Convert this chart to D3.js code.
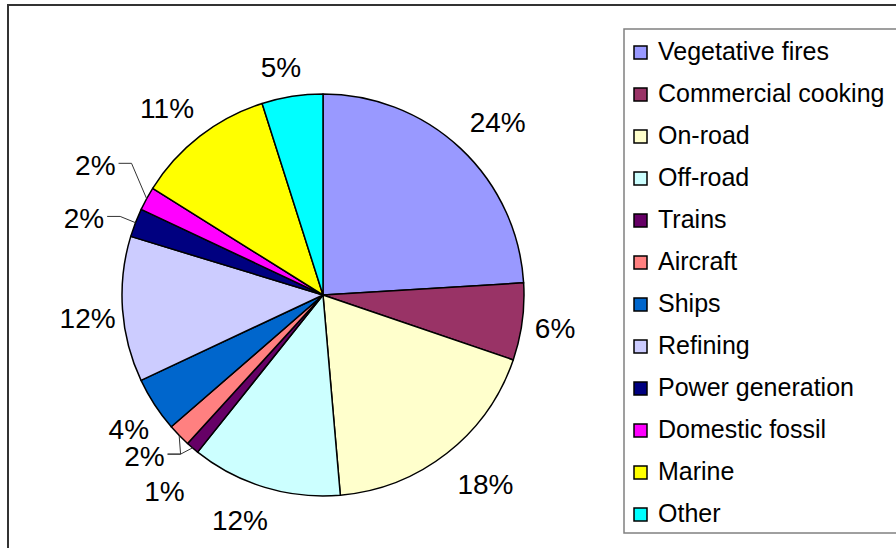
<!DOCTYPE html>
<html>
<head>
<meta charset="utf-8">
<script src="https://cdn.jsdelivr.net/npm/d3@7"></script>
<style>
  body { margin: 0; background: #fff; }
  svg { display: block; font-family: "Liberation Sans", Arial, sans-serif; }
</style>
</head>
<body>
<svg id="chart" width="896" height="548"></svg>
<script>
// Emission source categories, clockwise from 12 o'clock
const categories = ["Vegetative fires", "Commercial cooking", "On-road", "Off-road", "Trains",
  "Aircraft", "Ships", "Refining", "Power generation", "Domestic fossil", "Marine", "Other"];
// Share of total (%)
const shares = [24.05, 6.2, 18.4, 12.1, 1.05, 1.85, 4.4, 11.7, 2.3, 1.9, 11.2, 4.9];
const colors = ["#9999FF", "#993366", "#FFFFCC", "#CCFFFF", "#660066", "#FF8080",
  "#0066CC", "#CCCCFF", "#000080", "#FF00FF", "#FFFF00", "#00FFFF"];

// layout
const cx = 323, cy = 295, radius = 201;
// small nudges so labels sit where the original places them
const labelNudge = [[4, -2], [-7, 2], [9, 4], [-11, 0], [-2, 17], [-6, -3],
  [8, 6], [13, 6], [-14, 8], [-16, -17], [-4, -1], [-5, 4]];
// slices whose label has a leader line: [slice index, label index it starts from]
const leaders = [[5, 5], [4, 5], [8, 8], [9, 9]];

const svg = d3.select('#chart');

// outer frame
svg.append('rect')
  .attr('x', 8).attr('y', 5)
  .attr('width', 920).attr('height', 580)
  .attr('fill', 'none')
  .attr('stroke', '#333')
  .attr('stroke-width', 2);

const total = d3.sum(shares);
const fmt = d3.format('.0%');

const pie = d3.pie().sort(null).value(d => d)(shares);
const arc = d3.arc().innerRadius(0).outerRadius(radius);

const g = svg.append('g').attr('transform', `translate(${cx},${cy})`);

g.selectAll('path.slice')
  .data(pie)
  .enter().append('path')
  .attr('class', 'slice')
  .attr('d', arc)
  .attr('fill', (d, i) => colors[i])
  .attr('stroke', '#000')
  .attr('stroke-width', 1.5)
  .attr('stroke-linejoin', 'round');

// percentage labels, placed just outside the slice's mid angle
const labelBoxes = [];
const labels = g.selectAll('text.pct')
  .data(pie)
  .enter().append('text')
  .attr('class', 'pct')
  .attr('text-anchor', 'middle')
  .style('font-size', '28px')
  .style('fill', '#000')
  .text(d => fmt(d.value / total));

labels.each(function(d, i) {
  const a = (d.startAngle + d.endAngle) / 2;
  const ux = Math.sin(a), uy = -Math.cos(a);
  const w = this.getComputedTextLength();
  const h = 28;
  const x = ux * (radius + 20) + ux * w / 2 + labelNudge[i][0];
  const y = uy * (radius + 20) + uy * h / 2 + labelNudge[i][1];
  labelBoxes[i] = { x, y, w };
  d3.select(this).attr('x', x).attr('y', y + 10);
});

// leader lines for the thin slices on the left
leaders.forEach(([si, li]) => {
  const d = pie[si];
  const a = (d.startAngle + d.endAngle) / 2;
  const b = labelBoxes[li];
  const x0 = b.x + b.w / 2 + 3;
  const y0 = b.y - 2;
  const end = [Math.sin(a) * radius, -Math.cos(a) * radius];
  g.append('path')
    .attr('d', d3.line()([[x0, y0], [x0 + 13, y0], end]))
    .attr('fill', 'none')
    .attr('stroke', '#333')
    .attr('stroke-width', 1);
});

// legend
const legend = svg.append('g');
legend.append('rect')
  .attr('x', 624).attr('y', 29)
  .attr('width', 300).attr('height', 504)
  .attr('fill', '#fff')
  .attr('stroke', '#808080')
  .attr('stroke-width', 1.5);

const rows = legend.selectAll('g.item')
  .data(categories)
  .enter().append('g')
  .attr('class', 'item')
  .attr('transform', (d, i) => `translate(634,${46 + i * 42})`);

rows.append('rect')
  .attr('width', 13).attr('height', 13)
  .attr('fill', (d, i) => colors[i])
  .attr('stroke', '#000')
  .attr('stroke-width', 1.5);

rows.append('text')
  .attr('x', 24).attr('y', 13.5)
  .style('font-size', '25px')
  .style('fill', '#000')
  .text(d => d);
</script>
</body>
</html>
